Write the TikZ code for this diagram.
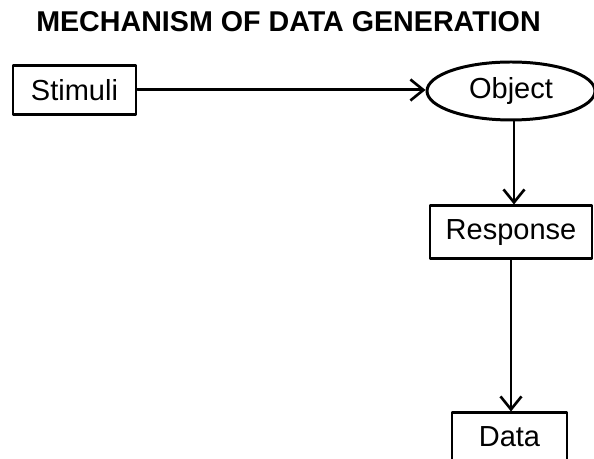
\documentclass[tikz,border=0pt]{standalone}
\usepackage{fontspec}
\setmainfont{Liberation Sans}
\usetikzlibrary{arrows.meta,shapes.geometric}

\tikzset{
  blocco/.style={draw, rectangle, minimum width=#1, minimum height=1cm, inner sep=0pt, font=\fontsize{16.5}{18}\selectfont},
  blocco/.default=2.4cm,
  freccia/.style={-{Straight Barb[length=2.6mm,width=4.2mm,line width=1.5pt]}}
}

\begin{document}
\begin{tikzpicture}[line width=1.7pt, line cap=round, line join=round]
    \useasboundingbox (0,0) rectangle (11.88,9.18);

    % Titolo
    \node[font=\fontsize{16.3}{18}\bfseries\selectfont] (titolo) at (5.77,8.74) {MECHANISM OF DATA GENERATION};

    % Blocchi: stimoli, oggetto, risposta, dati
    \node[blocco=2.46cm, minimum height=0.98cm] (stimuli) at (1.49,7.38) {Stimuli};
    \node[draw, ellipse, minimum width=3.36cm, minimum height=1.16cm, inner sep=0pt, font=\fontsize{16.5}{18}\selectfont] (object) at (10.22,7.36) {Object};
    \node[blocco=3.24cm, minimum height=1.06cm] (response) at (10.22,4.53) {Response};
    \node[blocco=2.3cm, minimum height=0.96cm] (data) at (10.19,0.44) {Data};

    % Frecce
    \draw[freccia] (stimuli.east) -- (stimuli.east -| object.west);
    \draw[freccia] (object.south) ++(0.06,0) coordinate (o1) -- (o1 |- response.north);
    \draw[freccia] (response.south) -- (response.south |- data.north);
\end{tikzpicture}
\end{document}
